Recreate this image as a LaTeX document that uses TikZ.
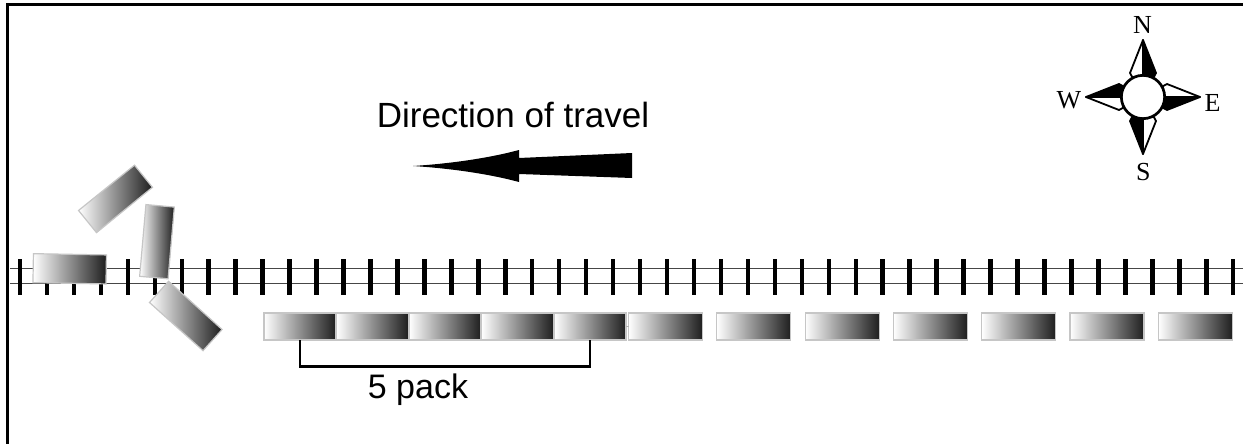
\documentclass[tikz,border=0pt]{standalone}
\usepackage{fontspec}
\setmainfont{Liberation Sans}
\newfontfamily\compassfont{Liberation Serif}
\begin{document}
\begin{tikzpicture}[x=1pt,y=-1pt,
  car/.style={rectangle, inner sep=0pt, outer sep=0pt, left color=white,
    right color=black!88, draw=gray!45, line width=1.2pt},
  packcar/.style={car, minimum width=72pt, minimum height=27pt},
  loosecar/.style={car, minimum width=74pt, minimum height=27pt},
  wreck/.style={car, minimum width=72pt, minimum height=28.5pt},
  tie/.style={line width=4.5pt, black},
  rail/.style={line width=1.6pt, gray!55!black},
  lbl/.style={inner sep=0pt, font=\fontsize{35}{42}\selectfont},
  cpt/.style={inner sep=0pt, font=\compassfont\fontsize{26}{30}\selectfont},
  bracket/.style={line width=2.7pt, black}]

% canvas and frame
\fill[white] (0,0) rectangle (1243,444);
\useasboundingbox (0,0) rectangle (1243,444);
\draw[line width=3.3pt] (7.5,444) -- (7.5,4.5) -- (1243,4.5);

% track: two rails and sleepers
\draw[rail] (10,268.3) -- (1243,268.3);
\draw[rail] (10,283.3) -- (1243,283.3);
\foreach \k in {0,...,45}
  \draw[tie] ({20+26.96*\k},259) -- ({20+26.96*\k},295);

% cars waiting beside the track
\foreach \k in {1,...,5}
  \node[packcar] (p\k) at ({300+72.5*(\k-1)},326.5) {};
\foreach \k in {6,...,12}
  \node[loosecar] (p\k) at ({665.5+88.3*(\k-6)},326.5) {};
\draw[gray!60, line width=1pt] (p5.east) -- (p6.west);

% bracket marking a pack of five
\draw[bracket] (p1.south) -- ++(0,26.5) coordinate (bl) -| (p5.south);
\node[lbl, anchor=base, font=\fontsize{34}{40}\selectfont] (packlbl) at (418,398) {5 pack};

% direction of travel
\node[lbl, anchor=base] (dirlbl) at (513,128) {Direction of travel};
\fill (413,166) .. controls (460,163) and (497,156) .. (519,150)
  -- (519,158) -- (632,153) -- (632,178) -- (519,174) -- (519,182)
  .. controls (497,176) and (460,169) .. (413,166) -- cycle;

% derailed cars
\node[wreck, minimum width=73pt, minimum height=29pt, rotate=-1] (w1) at (69.7,268.8) {};
\node[wreck, rotate=85] (w3) at (157,241.7) {};
\node[wreck, rotate=39] (w2) at (115.5,198.9) {};
\node[wreck, rotate=-42] (w4) at (185.8,316) {};

% compass rose
\begin{scope}[shift={(1143,97)}]
  \foreach \a in {0,90,180,270}{
    \begin{scope}[rotate=\a]
      \filldraw[fill=white, draw=black, line width=1.8pt, line join=round]
        (0,-57) -- (-13,-24) -- (0,0) -- cycle;
      \filldraw[fill=black, draw=black, line width=1.8pt, line join=round]
        (0,-57) -- (13,-24) -- (0,0) -- cycle;
    \end{scope}}
  \node[circle, draw, fill=white, line width=2.7pt, minimum size=43.3pt, inner sep=0pt] (hub) at (0,0) {};
\end{scope}
\node[cpt] (north) at (1142.5,24.7) {N};
\node[cpt] (west) at (1069,100.5) {W};
\node[cpt] (east) at (1212.5,102.5) {E};
\node[cpt] (south) at (1143.3,172) {S};
\end{tikzpicture}
\end{document}
